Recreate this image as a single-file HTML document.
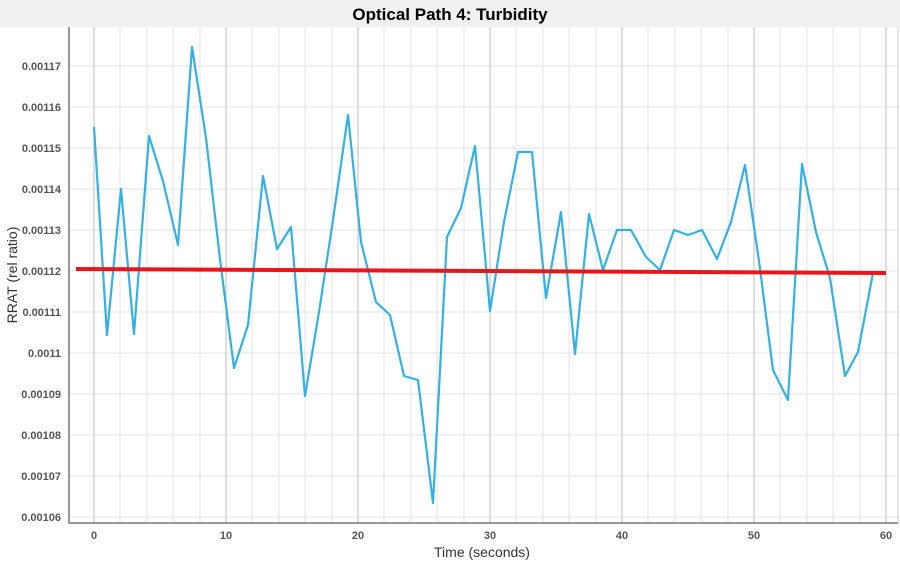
<!DOCTYPE html>
<html><head><meta charset="utf-8"><style>
body{margin:0;width:900px;height:560px;background:#fff;font-family:"Liberation Sans",sans-serif;overflow:hidden}
</style></head><body>
<svg width="900" height="560" xmlns="http://www.w3.org/2000/svg" font-family="Liberation Sans, sans-serif">
<rect x="0" y="0" width="900" height="27" fill="#f0f0f0"/>
<text x="450" y="20" text-anchor="middle" font-size="17" font-weight="bold" fill="#000">Optical Path 4: Turbidity</text>
<g stroke="#e3e3e3" stroke-width="1">
<line x1="120" y1="27" x2="120" y2="523"/><line x1="147" y1="27" x2="147" y2="523"/><line x1="173" y1="27" x2="173" y2="523"/><line x1="200" y1="27" x2="200" y2="523"/>
<line x1="252" y1="27" x2="252" y2="523"/><line x1="279" y1="27" x2="279" y2="523"/><line x1="305" y1="27" x2="305" y2="523"/><line x1="332" y1="27" x2="332" y2="523"/>
<line x1="384" y1="27" x2="384" y2="523"/><line x1="411" y1="27" x2="411" y2="523"/><line x1="437" y1="27" x2="437" y2="523"/><line x1="464" y1="27" x2="464" y2="523"/>
<line x1="516" y1="27" x2="516" y2="523"/><line x1="543" y1="27" x2="543" y2="523"/><line x1="569" y1="27" x2="569" y2="523"/><line x1="596" y1="27" x2="596" y2="523"/>
<line x1="648" y1="27" x2="648" y2="523"/><line x1="675" y1="27" x2="675" y2="523"/><line x1="701" y1="27" x2="701" y2="523"/><line x1="728" y1="27" x2="728" y2="523"/>
<line x1="780" y1="27" x2="780" y2="523"/><line x1="807" y1="27" x2="807" y2="523"/><line x1="833" y1="27" x2="833" y2="523"/><line x1="860" y1="27" x2="860" y2="523"/>
<line x1="69" y1="66" x2="898" y2="66"/><line x1="69" y1="107" x2="898" y2="107"/><line x1="69" y1="148" x2="898" y2="148"/><line x1="69" y1="189" x2="898" y2="189"/>
<line x1="69" y1="230" x2="898" y2="230"/><line x1="69" y1="271" x2="898" y2="271"/><line x1="69" y1="312" x2="898" y2="312"/><line x1="69" y1="353" x2="898" y2="353"/>
<line x1="69" y1="394" x2="898" y2="394"/><line x1="69" y1="435" x2="898" y2="435"/><line x1="69" y1="476" x2="898" y2="476"/><line x1="69" y1="517" x2="898" y2="517"/>
</g>
<g stroke="#bdbdbd" stroke-width="1">
<line x1="94" y1="27" x2="94" y2="523"/><line x1="226" y1="27" x2="226" y2="523"/><line x1="358" y1="27" x2="358" y2="523"/><line x1="490" y1="27" x2="490" y2="523"/><line x1="622" y1="27" x2="622" y2="523"/><line x1="754" y1="27" x2="754" y2="523"/><line x1="886" y1="27" x2="886" y2="523"/>
</g>
<line x1="898" y1="27" x2="898" y2="523" stroke="#ccc"/>
<path d="M69 27 V523 H898" fill="none" stroke="#777" stroke-width="1.5"/>
<g font-size="11" font-weight="bold" fill="#555" text-anchor="end">
<text x="61" y="70">0.00117</text><text x="61" y="111">0.00116</text><text x="61" y="152">0.00115</text><text x="61" y="193">0.00114</text><text x="61" y="234">0.00113</text><text x="61" y="275">0.00112</text><text x="61" y="316">0.00111</text><text x="61" y="357">0.0011</text><text x="61" y="398">0.00109</text><text x="61" y="439">0.00108</text><text x="61" y="480">0.00107</text><text x="61" y="521">0.00106</text>
</g>
<g font-size="11" font-weight="bold" fill="#555" text-anchor="middle">
<text x="94" y="539">0</text><text x="226" y="539">10</text><text x="358" y="539">20</text><text x="490" y="539">30</text><text x="622" y="539">40</text><text x="754" y="539">50</text><text x="886" y="539">60</text>
</g>
<text x="482" y="557" text-anchor="middle" font-size="14" fill="#333">Time (seconds)</text>
<text transform="translate(17,275) rotate(-90)" text-anchor="middle" font-size="14" fill="#333">RRAT (rel ratio)</text>
<polyline fill="none" stroke="#35b0e3" stroke-width="2.2" stroke-linejoin="round" points="94,127 107,335 121,189 134,334 149,136 163,181 178,245 192,47 206,138 220,259 234,368 248,325 263,176 277,249 291,227 305,396 319,312 333,220 348,115 361,242 376,302 390,315 404,376 418,380 433,503 447,237 461,208 475,146 490,311 504,222 518,152 532,152 546,298 561,212 575,354 589,214 603,270 617,230 631,230 646,257 660,270 674,230 688,235 702,230 717,259 731,222 745,165 759,261 773,370 788,400 802,164 816,232 830,278 845,376 858,352 873,273"/>
<line x1="76" y1="269" x2="886" y2="273" stroke="#e8161c" stroke-width="4"/>
</svg>
</body></html>
